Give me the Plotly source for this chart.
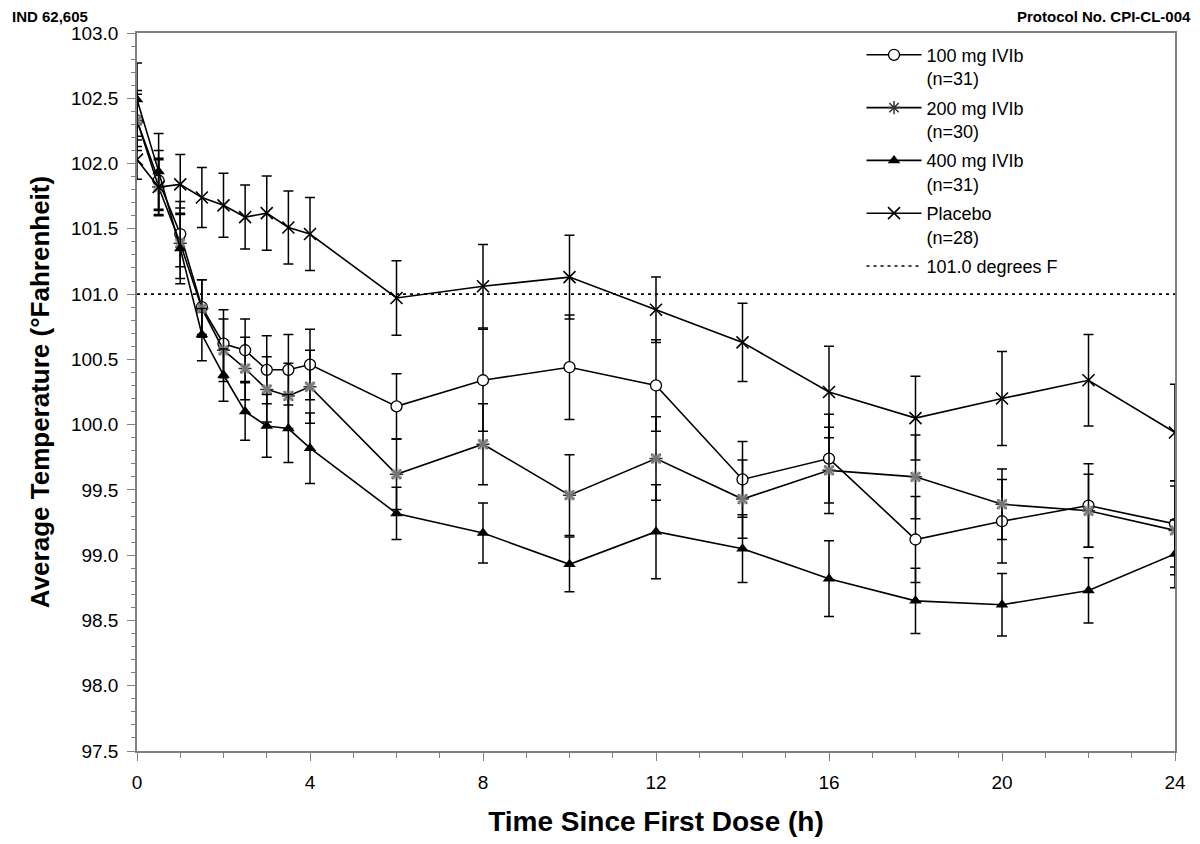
import plotly.graph_objects as go

# hours since first dose
times = [0, 0.5, 1, 1.5, 2, 2.5, 3, 3.5, 4, 6, 8, 10, 12, 14, 16, 18, 20, 22, 24]

# mean temperature (deg F) and standard error
mg100 = [102.33, 101.87, 101.46, 100.90, 100.62, 100.57, 100.42, 100.42, 100.46, 100.14,
         100.34, 100.44, 100.30, 99.58, 99.74, 99.12, 99.26, 99.38, 99.24]
mg100_se = [0.20, 0.23, 0.25, 0.21, 0.26, 0.24, 0.26, 0.27, 0.27, 0.25,
            0.39, 0.40, 0.35, 0.29, 0.34, 0.33, 0.32, 0.32, 0.33]

mg200 = [102.33, 101.82, 101.39, 100.89, 100.57, 100.43, 100.27, 100.22, 100.29, 99.62,
         99.85, 99.46, 99.74, 99.43, 99.65, 99.60, 99.39, 99.34, 99.19]
mg200_se = [0.23, 0.21, 0.27, 0.22, 0.24, 0.24, 0.25, 0.25, 0.28, 0.27,
            0.31, 0.31, 0.32, 0.30, 0.33, 0.32, 0.27, 0.28, 0.34]

mg400 = [102.49, 101.94, 101.35, 100.69, 100.38, 100.10, 99.99, 99.97, 99.82, 99.32,
         99.17, 98.93, 99.18, 99.05, 98.82, 98.65, 98.62, 98.73, 99.01]
mg400_se = [0.28, 0.29, 0.27, 0.20, 0.20, 0.22, 0.24, 0.26, 0.27, 0.20,
            0.23, 0.21, 0.36, 0.26, 0.29, 0.25, 0.24, 0.25, 0.26]

placebo = [102.03, 101.82, 101.84, 101.74, 101.68, 101.59, 101.62, 101.51, 101.46, 100.97,
           101.06, 101.13, 100.88, 100.63, 100.25, 100.05, 100.20, 100.34, 99.94]
placebo_se = [0.15, 0.22, 0.23, 0.23, 0.245, 0.245, 0.285, 0.28, 0.28, 0.285,
              0.32, 0.32, 0.25, 0.30, 0.35, 0.32, 0.36, 0.35, 0.37]

threshold = 101.0
x_ticks = [0, 4, 8, 12, 16, 20, 24]
y_ticks = [97.5, 98.0, 98.5, 99.0, 99.5, 100.0, 100.5, 101.0, 101.5, 102.0, 102.5, 103.0]

FONT = "Liberation Sans, Arial, sans-serif"
AXIS_GREY = "#808080"


def _err(se):
    return {"type": "data", "array": se, "color": "black", "thickness": 1.5, "width": 5}


fig = go.Figure()

fig.add_trace(go.Scatter(
    x=times, y=mg100, mode="lines+markers", name="100 mg IVIb<br>(n=31)", legendgroup="a",
    line={"color": "black", "width": 1.6},
    marker={"symbol": "circle", "size": 11, "color": "white", "line": {"color": "black", "width": 1.3}},
    error_y=_err(mg100_se),
))

fig.add_trace(go.Scatter(
    x=times, y=mg200, mode="lines+markers", name="200 mg IVIb<br>(n=30)", legendgroup="b",
    line={"color": "black", "width": 1.6},
    marker={"symbol": "asterisk-open", "size": 11, "color": "#333333", "line": {"color": "#333333", "width": 1.5}},
    error_y=_err(mg200_se),
))
# grey fill drawn over the 200 mg star, as in the original marker
fig.add_trace(go.Scatter(
    x=times, y=mg200, mode="markers", showlegend=False, hoverinfo="skip", legendgroup="b",
    marker={"symbol": "x", "size": 10, "color": "rgba(140,140,140,0.75)", "line": {"width": 0}},
))

fig.add_trace(go.Scatter(
    x=times, y=mg400, mode="lines+markers", name="400 mg IVIb<br>(n=31)", legendgroup="c",
    line={"color": "black", "width": 1.6},
    marker={"symbol": "triangle-up", "size": 11, "color": "black"},
    error_y=_err(mg400_se),
))

fig.add_trace(go.Scatter(
    x=times, y=placebo, mode="lines+markers", name="Placebo<br>(n=28)", legendgroup="d",
    line={"color": "black", "width": 1.6},
    marker={"symbol": "x-thin-open", "size": 12, "color": "black", "line": {"color": "black", "width": 1.6}},
    error_y=_err(placebo_se),
))

fig.add_trace(go.Scatter(
    x=[times[0], times[-1]], y=[threshold, threshold], mode="lines", name="101.0 degrees F", legendgroup="e",
    line={"color": "black", "width": 1.6, "dash": "3px,4px"},
))

fig.update_layout(
    width=1200, height=844,
    margin={"l": 129, "r": 33, "t": 25, "b": 101},
    plot_bgcolor="white", paper_bgcolor="white",
    font={"family": FONT, "color": "black", "size": 18},
    legend={
        "x": 0.698, "y": 0.995, "xanchor": "left", "yanchor": "top",
        "bgcolor": "rgba(255,255,255,0)", "font": {"size": 18},
        "itemwidth": 55, "valign": "top", "tracegroupgap": 3,
    },
    annotations=[
        {"text": "<b>IND 62,605</b>", "xref": "paper", "yref": "paper", "x": -0.1223, "y": 1.0,
         "xanchor": "left", "yanchor": "bottom", "yshift": 6, "showarrow": False, "font": {"size": 15}},
        {"text": "<b>Protocol No. CPI-CL-004</b>", "xref": "paper", "yref": "paper", "x": 1.0173, "y": 1.0,
         "xanchor": "right", "yanchor": "bottom", "yshift": 6, "showarrow": False, "font": {"size": 15}},
    ],
)

fig.update_xaxes(
    range=[0, 24], tickvals=x_ticks, ticks="outside", ticklen=8, tickcolor=AXIS_GREY,
    showline=True, linecolor=AXIS_GREY, linewidth=1.5, mirror=True, showgrid=False, zeroline=False,
    minor={"dtick": 1, "ticks": "outside", "ticklen": 5, "tickcolor": AXIS_GREY},
    tickfont={"size": 19}, ticklabelstandoff=5,
    title={"text": "<b>Time Since First Dose (h)</b>", "font": {"size": 28}, "standoff": 20},
)
fig.update_yaxes(
    range=[97.5, 103.0], tickvals=y_ticks, tickformat=".1f", ticks="outside", ticklen=8, tickcolor=AXIS_GREY,
    showline=True, linecolor=AXIS_GREY, linewidth=1.5, mirror=True, showgrid=False, zeroline=False,
    minor={"dtick": 0.1, "ticks": "outside", "ticklen": 4, "tickcolor": AXIS_GREY},
    tickfont={"size": 19}, ticklabelstandoff=5,
    title={"text": "<b>Average Temperature (°Fahrenheit)</b>", "font": {"size": 26}, "standoff": 14},
)

fig.write_html("out.html")
